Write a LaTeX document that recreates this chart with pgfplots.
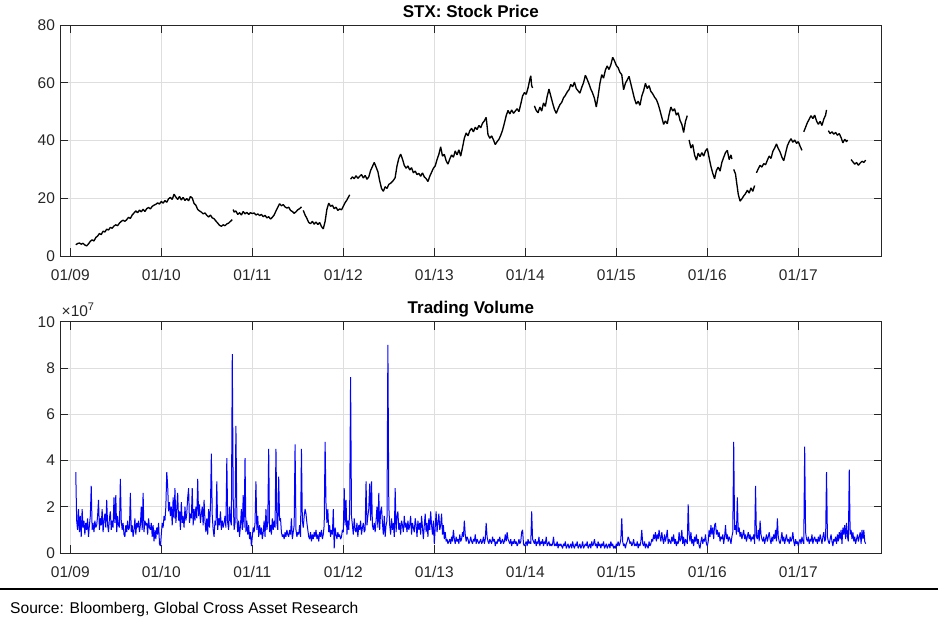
\documentclass[border=0pt]{standalone}
\usepackage{pgfplots}
\pgfplotsset{compat=1.18}
\usepackage{fontspec}
\setmainfont{Liberation Sans}
\definecolor{mgray}{RGB}{38,38,38}
\definecolor{gridc}{RGB}{222,222,222}
\pgfplotsset{
  stxaxis/.style={
    scale only axis,
    anchor=south west,
    width=821.7pt,
    xmin=8.8868, xmax=17.9165,
    xtick={9,10,11,12,13,14,15,16,17},
    xticklabels={01/09,01/10,01/11,01/12,01/13,01/14,01/15,01/16,01/17},
    tick pos=both,
    tick align=inside,
    major tick length=8pt,
    grid=major,
    grid style={gridc, line width=0.6pt},
    axis line style={mgray, line width=0.8pt},
    every tick/.style={mgray, line width=0.7pt},
    tick label style={font=\fontsize{15.5}{18}\selectfont, text=mgray},
    xticklabel style={yshift=-9.5pt},
    yticklabel style={xshift=-1.5pt},
    /pgf/number format/assume math mode=true,
    title style={font=\fontsize{17}{20}\selectfont\bfseries, at={(0.5,1)}, anchor=base, yshift=2pt},
    unbounded coords=jump,
  }
}
\begin{document}
\begin{tikzpicture}
\path[use as bounding box] (0,0) rectangle (938pt,625pt);
\begin{axis}[stxaxis, at={(60pt,369pt)}, height=231pt,
  ymin=0, ymax=80, ytick={0,20,40,60,80},
  title={STX: Stock Price}]
\addplot[black, line width=1.35pt, line join=bevel] coordinates {
(9.06,3.9) (9.08,4.3) (9.10,4.5) (9.12,4.1) (9.14,4.4) (9.16,3.8) (9.18,3.5) (9.20,4.2) (9.22,5.1) (9.24,5.6)
(9.26,5.2) (9.28,6.4) (9.30,6.9) (9.32,7.8) (9.34,7.4) (9.36,8.6) (9.38,8.3) (9.40,9.3) (9.42,9.0) (9.44,9.9)
(9.46,9.6) (9.48,10.4) (9.50,10.8) (9.52,10.5) (9.54,11.4) (9.56,12.0) (9.58,12.4) (9.60,12.0) (9.62,12.6) (9.64,13.4)
(9.66,13.0) (9.68,14.2) (9.70,14.9) (9.72,15.6) (9.74,15.0) (9.76,15.9) (9.78,15.3) (9.80,16.2) (9.82,15.4) (9.84,16.4)
(9.86,16.8) (9.88,16.3) (9.90,17.2) (9.92,17.6) (9.94,17.9) (9.96,18.4) (9.98,18.0) (10.00,18.9) (10.02,18.3) (10.04,19.2)
(10.06,18.6) (10.08,19.8) (10.10,20.3) (10.12,19.6) (10.14,21.4) (10.16,20.4) (10.18,19.6) (10.20,20.6) (10.22,19.4) (10.24,20.3)
(10.26,19.2) (10.28,19.9) (10.30,19.1) (10.32,20.6) (10.34,20.1) (10.36,18.2) (10.38,17.6) (10.40,16.1) (10.42,15.6) (10.44,15.2)
(10.46,14.6) (10.48,14.9) (10.50,14.1) (10.52,13.5) (10.54,14.2) (10.56,13.2) (10.58,12.9) (10.60,12.1) (10.62,11.4) (10.64,10.6)
(10.66,10.3) (10.68,10.8) (10.70,10.5) (10.72,11.1) (10.74,11.4) (10.76,12.0) (10.78,12.6) (10.785,nan)
(10.79,16.1) (10.80,15.2) (10.82,15.6) (10.84,14.4) (10.86,15.0) (10.88,14.2) (10.90,15.4) (10.92,14.6) (10.94,15.1) (10.96,14.4)
(10.98,15.0) (11.00,14.7) (11.02,14.9) (11.04,14.2) (11.06,14.6) (11.08,14.0) (11.10,14.4) (11.12,13.6) (11.14,14.1) (11.16,13.2)
(11.18,13.6) (11.20,12.8) (11.22,13.4) (11.24,14.2) (11.26,15.6) (11.28,16.9) (11.30,18.1) (11.32,17.4) (11.34,17.8) (11.36,17.0)
(11.38,16.6) (11.40,16.9) (11.42,15.8) (11.44,15.4) (11.46,14.8) (11.48,15.3) (11.50,16.0) (11.52,16.4) (11.54,17.0) (11.55,nan)
(11.56,15.8) (11.58,14.2) (11.60,13.0) (11.62,11.6) (11.64,11.2) (11.66,12.0) (11.68,11.0) (11.70,11.8) (11.72,10.9) (11.74,11.6)
(11.76,10.2) (11.78,9.4) (11.80,12.0) (11.82,16.2) (11.84,18.3) (11.86,17.2) (11.88,17.6) (11.90,16.4) (11.92,16.9) (11.94,15.8)
(11.96,16.3) (11.98,16.0) (12.00,17.2) (12.02,18.5) (12.04,19.4) (12.06,20.6) (12.07,21.2) (12.075,nan)
(12.08,26.6) (12.10,27.4) (12.12,26.8) (12.14,27.8) (12.16,26.9) (12.18,27.6) (12.20,28.2) (12.22,27.0) (12.24,27.9) (12.26,26.6)
(12.28,27.4) (12.30,29.6) (12.32,31.0) (12.34,32.4) (12.36,30.8) (12.38,29.2) (12.40,26.0) (12.42,23.4) (12.44,22.4) (12.46,24.0)
(12.48,23.4) (12.50,24.8) (12.52,25.2) (12.54,25.8) (12.56,26.6) (12.57,27.2)
(12.59,31.2) (12.61,33.8) (12.63,35.3) (12.65,33.6) (12.67,31.4) (12.69,30.4) (12.71,31.2) (12.73,29.8) (12.75,30.6) (12.77,28.8)
(12.79,29.4) (12.81,28.2) (12.83,28.6) (12.85,27.6) (12.87,28.8) (12.89,27.4) (12.91,26.8) (12.93,25.8) (12.95,27.6) (12.97,29.0)
(12.99,30.4) (13.01,31.2) (13.03,33.4) (13.05,35.2) (13.07,37.8) (13.09,34.6) (13.11,35.2) (13.13,33.0) (13.15,31.8) (13.17,33.6)
(13.19,35.0) (13.21,34.2) (13.23,36.4) (13.25,35.0) (13.27,36.8) (13.29,34.6) (13.31,37.6) (13.33,40.8) (13.35,42.6) (13.37,41.6)
(13.39,43.4) (13.41,44.2) (13.43,43.0) (13.45,44.6) (13.47,43.8) (13.49,45.2) (13.51,44.4) (13.53,46.0) (13.55,46.8) (13.57,48.0)
(13.59,42.0) (13.61,40.8) (13.63,41.6) (13.65,40.2) (13.67,38.6) (13.69,39.6) (13.71,40.4) (13.73,41.8) (13.75,43.6) (13.77,46.0)
(13.79,48.6) (13.81,50.4) (13.83,49.2) (13.85,50.6) (13.87,49.4) (13.89,50.2) (13.91,51.0) (13.93,50.0) (13.95,52.6) (13.97,55.4)
(13.99,56.6) (14.01,56.0) (14.03,58.2) (14.05,61.2) (14.06,62.4) (14.07,59.0) (14.08,58.2) (14.09,nan)
(14.10,52.0) (14.12,50.4) (14.14,49.6) (14.16,51.6) (14.18,50.2) (14.20,53.0) (14.22,51.8) (14.24,55.2) (14.26,57.8) (14.28,55.4)
(14.30,53.0) (14.32,50.8) (14.34,49.4) (14.36,51.0) (14.38,52.4) (14.40,53.2) (14.42,54.8) (14.44,55.6) (14.46,56.8) (14.48,57.6)
(14.50,59.4) (14.52,58.6) (14.54,60.2) (14.56,58.0) (14.58,57.2) (14.60,56.4) (14.62,58.4) (14.64,60.0) (14.66,62.6) (14.68,61.2)
(14.70,59.6) (14.72,57.8) (14.74,56.4) (14.76,54.6) (14.78,51.6) (14.80,55.4) (14.82,59.8) (14.84,62.8) (14.86,61.6) (14.88,64.4)
(14.90,65.8) (14.92,64.6) (14.94,66.2) (14.96,68.8) (14.98,67.6) (15.00,66.0) (15.02,65.2) (15.04,63.6) (15.06,62.8)
(15.08,57.6) (15.10,59.8) (15.12,61.0) (15.14,62.2) (15.16,59.6) (15.18,57.0) (15.20,54.4) (15.22,52.6) (15.24,53.6) (15.26,52.2)
(15.28,55.4) (15.30,57.2) (15.32,59.8) (15.34,58.0) (15.36,59.0) (15.38,57.0) (15.40,56.2) (15.42,55.0) (15.44,54.2) (15.46,52.6)
(15.48,50.4) (15.50,48.0) (15.52,45.6) (15.54,46.8) (15.56,45.8) (15.58,49.0) (15.60,51.6) (15.62,50.2) (15.64,51.0) (15.66,48.8)
(15.68,49.6) (15.70,47.0) (15.72,45.6) (15.74,42.8) (15.76,46.6) (15.78,48.6) (15.79,nan)
(15.80,40.2) (15.82,37.4) (15.84,38.6) (15.86,35.0) (15.88,33.2) (15.90,35.6) (15.92,34.4) (15.94,35.8) (15.96,34.6) (15.98,36.4)
(16.00,37.2) (16.02,34.0) (16.04,31.0) (16.06,28.6) (16.08,26.8) (16.10,29.6) (16.12,30.8) (16.14,29.4) (16.16,32.4) (16.18,34.2)
(16.20,35.8) (16.22,36.6) (16.24,33.4) (16.26,35.0) (16.27,33.6) (16.28,nan)
(16.29,30.0) (16.31,28.4) (16.32,26.0) (16.34,21.4) (16.36,19.0) (16.38,19.8) (16.40,20.8) (16.42,21.6) (16.44,22.8) (16.46,21.8)
(16.48,23.6) (16.50,22.4) (16.52,24.4) (16.53,nan)
(16.54,28.8) (16.56,30.2) (16.58,31.4) (16.60,30.8) (16.62,32.0) (16.64,31.6) (16.66,33.2) (16.68,34.6) (16.70,33.8) (16.72,36.2)
(16.74,37.4) (16.76,38.8) (16.78,37.2) (16.80,36.0) (16.82,34.2) (16.84,33.0) (16.86,35.6) (16.88,38.2) (16.90,39.6) (16.92,40.6)
(16.94,39.4) (16.96,40.2) (16.98,39.0) (17.00,39.6) (17.02,38.0) (17.04,36.6) (17.05,nan)
(17.06,43.0) (17.08,44.6) (17.10,46.2) (17.12,47.4) (17.14,48.6) (17.16,47.6) (17.18,48.8) (17.20,46.8) (17.22,45.6) (17.24,46.6)
(17.26,45.2) (17.28,47.4) (17.30,48.8) (17.31,50.6) (17.32,nan)
(17.33,43.4) (17.35,42.4) (17.37,43.0) (17.39,42.2) (17.41,42.8) (17.43,41.8) (17.45,42.4) (17.47,41.0) (17.49,39.2) (17.51,40.4)
(17.53,39.6) (17.54,40.2) (17.56,nan)
(17.58,33.4) (17.60,32.6) (17.62,31.8) (17.64,32.4) (17.66,31.4) (17.68,32.2) (17.70,32.8) (17.72,32.4) (17.74,33.2)
};
\end{axis}
\begin{axis}[stxaxis, name=vol, at={(60pt,72pt)}, height=231.3pt,
  ymin=0, ymax=10, ytick={0,2,4,6,8,10},
  title={Trading Volume}]
\addplot[blue, line width=1.0pt, line join=bevel] coordinates {
(9.06,3.5) (9.07,1.4) (9.08,1.0) (9.09,1.9)
(9.10,0.9) (9.11,1.6) (9.12,0.7) (9.13,1.9) (9.14,1.1) (9.15,1.4) (9.16,0.8) (9.17,1.3) (9.18,1.0) (9.19,1.5)
(9.20,0.7) (9.21,1.2) (9.22,1.6) (9.23,2.9) (9.24,1.0) (9.25,1.3) (9.26,0.9) (9.27,1.4) (9.28,1.1) (9.29,1.2)
(9.30,1.6) (9.31,2.3) (9.32,1.0) (9.33,1.5) (9.34,1.2) (9.35,1.9) (9.36,0.9) (9.37,1.4) (9.38,1.7) (9.39,1.1)
(9.40,2.3) (9.41,1.2) (9.42,0.9) (9.43,1.5) (9.44,1.8) (9.45,1.0) (9.46,1.4) (9.47,1.1) (9.48,2.4) (9.49,1.3)
(9.50,2.5) (9.51,0.9) (9.52,1.6) (9.53,1.2) (9.54,1.1) (9.55,3.2) (9.56,1.4) (9.57,1.0) (9.58,1.3) (9.59,0.8)
(9.60,0.7) (9.61,1.2) (9.62,0.9) (9.63,1.4) (9.64,1.0) (9.65,1.1) (9.66,2.6) (9.67,0.9) (9.68,1.2) (9.69,0.7)
(9.70,1.0) (9.71,1.5) (9.72,0.8) (9.73,1.3) (9.74,1.1) (9.75,1.4) (9.76,0.9) (9.77,1.2) (9.78,2.0) (9.79,1.0)
(9.80,2.6) (9.81,0.9) (9.82,1.4) (9.83,1.2) (9.84,1.3) (9.85,0.8) (9.86,1.5) (9.87,1.1) (9.88,1.0) (9.89,1.3)
(9.90,0.7) (9.91,1.2) (9.92,0.5) (9.93,1.0) (9.94,0.6) (9.95,1.1) (9.96,0.8) (9.97,1.3) (9.98,0.4) (9.99,0.3)
(10.00,0.8) (10.01,1.3) (10.02,1.1) (10.03,1.6) (10.04,1.4) (10.05,2.0) (10.06,3.5) (10.07,2.9) (10.08,1.8) (10.09,2.2)
(10.10,1.6) (10.11,2.0) (10.12,1.2) (10.13,2.4) (10.14,1.5) (10.15,2.8) (10.16,1.3) (10.17,1.9) (10.18,2.6) (10.19,1.4)
(10.20,1.8) (10.21,1.0) (10.22,2.2) (10.23,1.3) (10.24,1.6) (10.25,1.1) (10.26,2.0) (10.27,1.4) (10.28,1.7) (10.29,2.4)
(10.30,2.8) (10.31,1.3) (10.32,1.7) (10.33,1.5) (10.34,2.8) (10.35,1.2) (10.36,1.9) (10.37,1.4) (10.38,2.0) (10.39,1.5)
(10.40,3.2) (10.41,1.6) (10.42,2.1) (10.43,1.3) (10.44,1.7) (10.45,2.0) (10.46,1.2) (10.47,2.3) (10.48,1.4) (10.49,0.9)
(10.50,1.5) (10.51,0.8) (10.52,1.9) (10.53,1.1) (10.54,2.0) (10.55,4.3) (10.56,1.6) (10.57,1.0) (10.58,0.7) (10.59,1.4)
(10.60,1.2) (10.61,3.1) (10.62,1.0) (10.63,1.5) (10.64,1.2) (10.65,1.8) (10.66,1.0) (10.67,1.4) (10.68,1.1) (10.69,1.3)
(10.70,1.6) (10.71,1.1) (10.72,4.1) (10.73,1.3) (10.74,1.0) (10.75,2.0) (10.76,1.4) (10.77,1.2) (10.78,8.6) (10.79,2.4)
(10.80,1.0) (10.81,1.3) (10.82,5.5) (10.83,1.6) (10.84,0.9) (10.85,1.4) (10.86,0.7) (10.87,1.2) (10.88,1.9) (10.89,1.0)
(10.90,2.5) (10.91,1.1) (10.92,4.1) (10.93,0.9) (10.94,1.4) (10.95,0.8) (10.96,1.2) (10.97,0.6) (10.98,0.9) (10.99,0.3)
(11.00,0.7) (11.01,1.1) (11.02,0.9) (11.03,1.3) (11.04,3.1) (11.05,1.0) (11.06,1.6) (11.07,0.7) (11.08,1.2) (11.09,0.8)
(11.10,1.1) (11.11,0.6) (11.12,0.9) (11.13,1.4) (11.14,0.7) (11.15,1.9) (11.16,1.0) (11.17,1.3) (11.18,4.5) (11.19,0.9)
(11.20,1.2) (11.21,0.8) (11.22,1.5) (11.23,1.0) (11.24,1.4) (11.25,1.1) (11.26,4.5) (11.27,1.3) (11.28,1.0) (11.29,3.3)
(11.30,1.4) (11.31,1.5) (11.32,0.9) (11.33,0.7) (11.34,0.8) (11.35,0.6) (11.36,0.9) (11.37,0.7) (11.38,1.0) (11.39,0.8)
(11.40,0.7) (11.41,1.0) (11.42,0.8) (11.43,1.5) (11.44,0.6) (11.45,0.9) (11.46,1.2) (11.47,4.7) (11.48,1.0) (11.49,0.7)
(11.50,0.9) (11.51,0.8) (11.52,1.2) (11.53,0.7) (11.54,4.5) (11.55,1.4) (11.56,1.1) (11.57,1.6) (11.58,1.9) (11.59,1.7)
(11.60,1.3) (11.61,1.0) (11.62,0.7) (11.63,0.6) (11.64,0.9) (11.65,0.5) (11.66,0.8) (11.67,0.6) (11.68,0.9) (11.69,0.7)
(11.70,1.0) (11.71,0.6) (11.72,0.8) (11.73,0.5) (11.74,0.9) (11.75,0.7) (11.76,1.0) (11.77,0.6) (11.78,0.8) (11.79,1.2)
(11.80,4.8) (11.81,2.1) (11.82,1.3) (11.83,1.9) (11.84,0.9) (11.85,1.2) (11.86,0.7) (11.87,1.0) (11.88,0.8) (11.89,1.9)
(11.90,0.2) (11.91,1.1) (11.92,0.8) (11.93,0.6) (11.94,0.9) (11.95,0.7) (11.96,0.8) (11.97,0.6) (11.98,0.7) (11.99,1.0)
(12.00,0.9) (12.01,2.8) (12.02,1.2) (12.03,2.3) (12.04,0.8) (12.05,1.4) (12.06,1.0) (12.07,1.8) (12.08,7.6) (12.09,1.6)
(12.10,1.2) (12.11,0.8) (12.12,1.5) (12.13,1.0) (12.14,0.9) (12.15,1.3) (12.16,0.7) (12.17,1.2) (12.18,1.0) (12.19,1.4)
(12.20,0.8) (12.21,1.1) (12.22,1.3) (12.23,0.9) (12.24,1.0) (12.25,3.1) (12.26,1.2) (12.27,1.6) (12.28,1.9) (12.29,3.0)
(12.30,1.4) (12.31,3.1) (12.32,1.2) (12.33,1.0) (12.34,1.3) (12.35,0.9) (12.36,1.4) (12.37,2.0) (12.38,1.1) (12.39,2.6)
(12.40,1.0) (12.41,1.8) (12.42,2.0) (12.43,1.3) (12.44,0.8) (12.45,1.6) (12.46,0.7) (12.47,1.2) (12.48,1.4) (12.49,9.0)
(12.50,2.0) (12.51,1.2) (12.52,0.8) (12.53,1.5) (12.54,1.0) (12.55,1.3) (12.56,0.7) (12.57,2.8) (12.58,0.9) (12.59,1.6)
(12.60,1.8) (12.61,1.0) (12.62,1.3) (12.63,0.8) (12.64,1.4) (12.65,1.2) (12.66,0.9) (12.67,1.6) (12.68,1.1) (12.69,1.3)
(12.70,0.9) (12.71,1.4) (12.72,1.0) (12.73,1.2) (12.74,1.6) (12.75,0.8) (12.76,1.3) (12.77,1.1) (12.78,0.9) (12.79,1.5)
(12.80,1.2) (12.81,0.7) (12.82,1.4) (12.83,1.0) (12.84,1.3) (12.85,0.8) (12.86,1.6) (12.87,1.1) (12.88,0.6) (12.89,1.2)
(12.90,1.7) (12.91,0.9) (12.92,1.3) (12.93,0.7) (12.94,1.5) (12.95,1.0) (12.96,1.8) (12.97,1.2) (12.98,0.8) (12.99,1.4)
(13.00,0.4) (13.01,1.1) (13.02,1.8) (13.03,0.9) (13.04,1.3) (13.05,1.7) (13.06,1.0) (13.07,1.2) (13.08,1.7) (13.09,0.8)
(13.10,1.2) (13.11,0.6) (13.12,0.9) (13.13,0.5) (13.14,0.6) (13.15,0.4) (13.16,0.5) (13.17,0.6) (13.18,0.4) (13.19,0.7)
(13.20,0.5) (13.21,1.0) (13.22,0.6) (13.23,0.4) (13.24,0.7) (13.25,0.5) (13.26,0.6) (13.27,0.4) (13.28,0.8) (13.29,0.5)
(13.30,0.6) (13.31,0.9) (13.32,0.7) (13.33,1.4) (13.34,0.8) (13.35,0.5) (13.36,0.7) (13.37,0.6) (13.38,0.4) (13.39,0.5)
(13.40,0.7) (13.41,0.5) (13.42,0.4) (13.43,0.6) (13.44,0.5) (13.45,0.8) (13.46,0.4) (13.47,0.6) (13.48,0.5) (13.49,0.4)
(13.50,0.5) (13.51,0.6) (13.52,0.4) (13.53,0.5) (13.54,0.7) (13.55,0.4) (13.56,0.6) (13.57,1.3) (13.58,0.7) (13.59,0.5)
(13.60,0.4) (13.61,0.6) (13.62,0.5) (13.63,0.4) (13.64,0.7) (13.65,0.5) (13.66,0.6) (13.67,0.3) (13.68,0.5) (13.69,0.4)
(13.70,0.6) (13.71,0.5) (13.72,0.7) (13.73,0.4) (13.74,0.5) (13.75,0.6) (13.76,0.4) (13.77,0.5) (13.78,0.8) (13.79,0.5)
(13.80,0.9) (13.81,0.6) (13.82,0.5) (13.83,0.4) (13.84,0.6) (13.85,0.3) (13.86,0.5) (13.87,0.4) (13.88,0.6) (13.89,0.4)
(13.90,0.5) (13.91,0.3) (13.92,0.4) (13.93,0.6) (13.94,0.4) (13.95,0.5) (13.96,0.9) (13.97,1.0) (13.98,0.4) (13.99,0.3)
(14.00,0.4) (14.01,0.5) (14.02,0.3) (14.03,0.6) (14.04,0.4) (14.05,0.5) (14.06,0.4) (14.07,1.8) (14.08,0.6) (14.09,0.5)
(14.10,0.4) (14.11,0.6) (14.12,0.3) (14.13,0.5) (14.14,0.4) (14.15,0.7) (14.16,0.3) (14.17,0.5) (14.18,0.4) (14.19,0.6)
(14.20,0.3) (14.21,0.5) (14.22,0.4) (14.23,0.7) (14.24,0.3) (14.25,0.4) (14.26,0.5) (14.27,0.3) (14.28,0.4) (14.29,0.3)
(14.30,0.4) (14.31,0.7) (14.32,0.3) (14.33,0.4) (14.34,0.3) (14.35,0.5) (14.36,0.2) (14.37,0.4) (14.38,0.3) (14.39,0.4)
(14.40,0.3) (14.41,0.2) (14.42,0.4) (14.43,0.3) (14.44,0.5) (14.45,0.2) (14.46,0.3) (14.47,0.4) (14.48,0.2) (14.49,0.3)
(14.50,0.4) (14.51,0.2) (14.52,0.5) (14.53,0.3) (14.54,0.2) (14.55,0.4) (14.56,0.3) (14.57,0.5) (14.58,0.2) (14.59,0.3)
(14.60,0.4) (14.61,0.2) (14.62,0.3) (14.63,0.5) (14.64,0.2) (14.65,0.3) (14.66,0.4) (14.67,0.3) (14.68,0.5) (14.69,0.2)
(14.70,0.3) (14.71,0.4) (14.72,0.2) (14.73,0.5) (14.74,0.3) (14.75,0.4) (14.76,0.6) (14.77,0.3) (14.78,0.4) (14.79,0.2)
(14.80,0.5) (14.81,0.3) (14.82,0.4) (14.83,0.2) (14.84,0.4) (14.85,0.3) (14.86,0.5) (14.87,0.2) (14.88,0.3) (14.89,0.4)
(14.90,0.2) (14.91,0.3) (14.92,0.4) (14.93,0.2) (14.94,0.5) (14.95,0.3) (14.96,0.4) (14.97,0.2) (14.98,0.3) (14.99,0.2)
(15.00,0.4) (15.01,0.3) (15.02,0.5) (15.03,0.3) (15.04,0.4) (15.05,0.6) (15.06,1.5) (15.07,0.5) (15.08,0.3) (15.09,0.4)
(15.10,0.2) (15.11,0.4) (15.12,0.5) (15.13,0.7) (15.14,0.6) (15.15,0.4) (15.16,0.5) (15.17,0.3) (15.18,0.4) (15.19,0.6)
(15.20,0.3) (15.21,0.4) (15.22,0.3) (15.23,0.5) (15.24,0.2) (15.25,0.4) (15.26,0.3) (15.27,0.5) (15.28,1.0) (15.29,0.4)
(15.30,0.3) (15.31,0.5) (15.32,0.2) (15.33,0.4) (15.34,0.3) (15.35,0.2) (15.36,0.5) (15.37,0.3) (15.38,0.4) (15.39,0.6)
(15.40,0.5) (15.41,0.8) (15.42,0.6) (15.43,0.9) (15.44,0.5) (15.45,0.8) (15.46,0.6) (15.47,1.0) (15.48,0.7) (15.49,0.5)
(15.50,0.9) (15.51,0.6) (15.52,0.4) (15.53,0.8) (15.54,0.5) (15.55,0.7) (15.56,1.0) (15.57,0.4) (15.58,0.6) (15.59,0.5)
(15.60,0.4) (15.61,0.7) (15.62,0.5) (15.63,0.8) (15.64,0.4) (15.65,0.6) (15.66,0.3) (15.67,0.5) (15.68,0.4) (15.69,0.9)
(15.70,0.5) (15.71,0.6) (15.72,1.0) (15.73,0.4) (15.74,0.7) (15.75,0.3) (15.76,0.6) (15.77,0.5) (15.78,0.4) (15.79,2.1)
(15.80,0.8) (15.81,0.5) (15.82,0.9) (15.83,0.4) (15.84,0.6) (15.85,0.3) (15.86,0.7) (15.87,0.5) (15.88,0.8) (15.89,0.4)
(15.90,0.6) (15.91,0.3) (15.92,0.2) (15.93,0.5) (15.94,0.7) (15.95,0.4) (15.96,0.6) (15.97,0.5) (15.98,0.8) (15.99,0.4)
(16.00,0.3) (16.01,0.5) (16.02,1.0) (16.03,0.7) (16.04,1.2) (16.05,0.8) (16.06,1.1) (16.07,0.6) (16.08,1.2) (16.09,1.3)
(16.10,0.8) (16.11,1.0) (16.12,0.7) (16.13,0.9) (16.14,0.5) (16.15,0.7) (16.16,0.6) (16.17,0.8) (16.18,0.4) (16.19,0.7)
(16.20,1.2) (16.21,0.6) (16.22,0.8) (16.23,0.5) (16.24,0.7) (16.25,0.6) (16.26,0.4) (16.27,0.7) (16.28,0.9) (16.29,4.8)
(16.30,1.0) (16.31,1.2) (16.32,0.8) (16.33,2.4) (16.34,0.9) (16.35,1.1) (16.36,0.7) (16.37,0.9) (16.38,0.6) (16.39,0.8)
(16.40,1.0) (16.41,0.6) (16.42,0.8) (16.43,0.5) (16.44,0.7) (16.45,0.9) (16.46,0.6) (16.47,0.8) (16.48,0.5) (16.49,0.7)
(16.50,0.6) (16.51,0.8) (16.52,0.4) (16.53,2.9) (16.54,0.7) (16.55,0.6) (16.56,1.0) (16.57,0.5) (16.58,1.4) (16.59,0.8)
(16.60,0.6) (16.61,0.5) (16.62,0.7) (16.63,0.4) (16.64,0.6) (16.65,0.8) (16.66,0.5) (16.67,0.7) (16.68,0.9) (16.69,0.6)
(16.70,0.4) (16.71,0.7) (16.72,0.5) (16.73,0.8) (16.74,0.6) (16.75,1.0) (16.76,0.5) (16.77,1.5) (16.78,0.7) (16.79,0.5)
(16.80,0.4) (16.81,0.6) (16.82,0.9) (16.83,0.5) (16.84,0.7) (16.85,0.4) (16.86,0.6) (16.87,0.8) (16.88,0.5) (16.89,0.6)
(16.90,0.4) (16.91,0.7) (16.92,0.5) (16.93,0.6) (16.94,0.9) (16.95,0.5) (16.96,0.3) (16.97,0.6) (16.98,0.4) (16.99,0.5)
(17.00,0.3) (17.01,0.5) (17.02,0.6) (17.03,0.4) (17.04,0.7) (17.05,0.5) (17.06,0.4) (17.07,4.6) (17.08,0.9) (17.09,0.6)
(17.10,0.5) (17.11,0.7) (17.12,0.4) (17.13,0.6) (17.14,0.5) (17.15,0.8) (17.16,0.4) (17.17,0.6) (17.18,0.7) (17.19,0.5)
(17.20,0.6) (17.21,0.4) (17.22,0.7) (17.23,0.5) (17.24,0.8) (17.25,0.6) (17.26,0.4) (17.27,0.7) (17.28,0.9) (17.29,0.5)
(17.30,0.6) (17.31,3.5) (17.32,0.7) (17.33,0.5) (17.34,0.4) (17.35,0.6) (17.36,0.8) (17.37,0.5) (17.38,0.3) (17.39,0.6)
(17.40,0.5) (17.41,0.7) (17.42,0.4) (17.43,0.8) (17.44,0.5) (17.45,0.9) (17.46,0.6) (17.47,1.0) (17.48,0.4) (17.49,1.1)
(17.50,0.8) (17.51,1.2) (17.52,0.6) (17.53,1.3) (17.54,0.7) (17.55,0.5) (17.56,3.6) (17.57,0.8) (17.58,1.0) (17.59,0.6)
(17.60,0.9) (17.61,0.5) (17.62,0.7) (17.63,0.4) (17.64,0.6) (17.65,0.8) (17.66,0.5) (17.67,0.7) (17.68,0.9) (17.69,0.4)
(17.70,1.0) (17.71,0.6) (17.72,1.0) (17.73,0.5) (17.74,0.4)
};
\end{axis}
\node[anchor=base west, font=\fontsize{15.5}{18}\selectfont, text=mgray, inner sep=0pt] at ([xshift=1.5pt, yshift=5pt]vol.north west) {×10\raisebox{6pt}{\fontsize{11}{12}\selectfont 7}};
\draw[black, line width=1.6pt] (0,36pt) -- (938pt,36pt);
\node[anchor=base west, inner sep=0pt, font=\fontsize{15.6}{18}\selectfont] at (10pt,12pt) {Source: Bloomberg, Global Cross Asset Research};
\end{tikzpicture}
\end{document}
